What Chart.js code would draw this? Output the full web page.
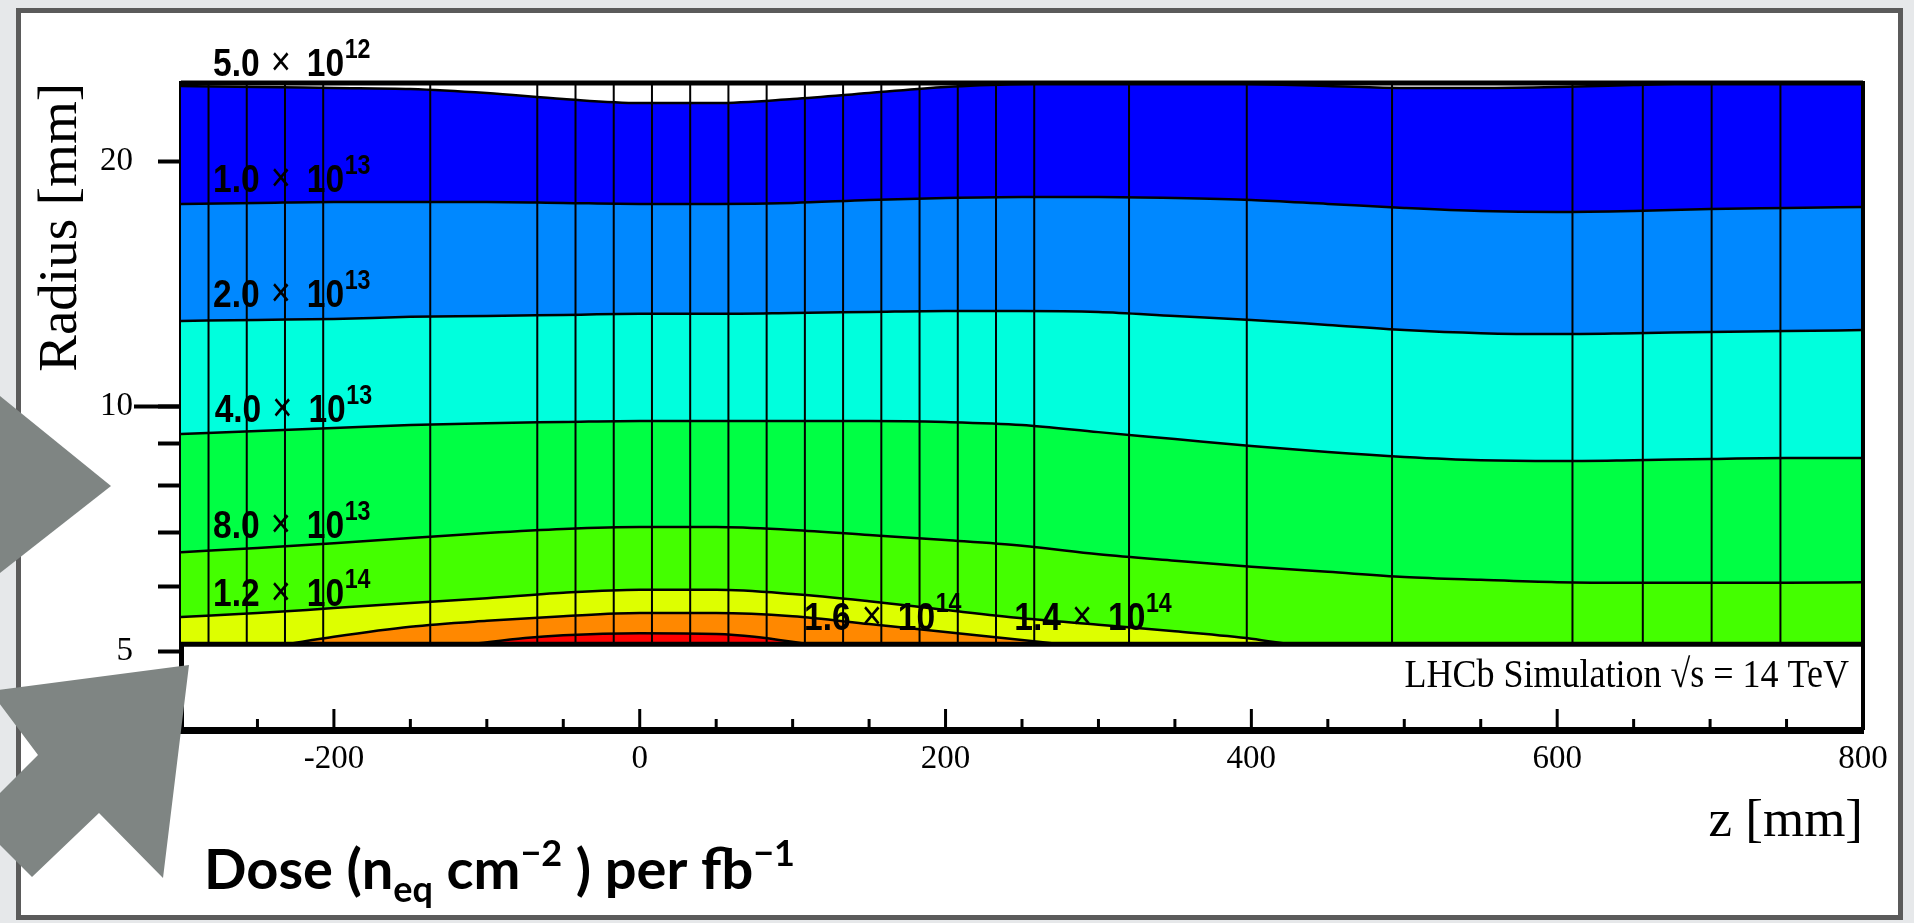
<!DOCTYPE html>
<html>
<head>
<meta charset="utf-8">
<script src="https://cdn.jsdelivr.net/npm/chart.js@4.4.0/dist/chart.umd.min.js"></script>
<style>
  html, body { margin: 0; padding: 0; width: 1914px; height: 923px; overflow: hidden; background: #e6e8ea; }
  #card { position: absolute; left: 16px; top: 8px; width: 1887px; height: 912px; background: #fff;
          border: 5px solid #5b5b5b; box-sizing: border-box; }
  #dose { position: absolute; left: 0; top: 0; }
  #arrows { position: absolute; left: 0; top: 0; }
</style>
</head>
<body>
<div id="card"></div>
<canvas id="dose" width="1914" height="923"></canvas>
<svg id="arrows" width="1914" height="923">
  <polygon points="-5,392 111,486 -5,577" fill="#7f8583"/>
  <polygon points="189,665 -10,691 38,755 -26,819 32,877 99,813 163,878" fill="#7f8583"/>
</svg>
<script>
// z grid (mm) shared by the full-length contour lines
const zGrid = [-300, -250, -200, -150, -100, -50, 0, 50, 100, 150, 200, 250, 300,
               350, 400, 450, 500, 550, 600, 650, 700, 750, 800];

// contour levels (n_eq cm^-2 per fb^-1) and the fill below each of them
const levels = [5.0e12, 1.0e13, 2.0e13, 4.0e13, 8.0e13, 1.2e14, 1.4e14, 1.6e14];
const bandColors = ['#0000ff', '#0088ff', '#00ffdd', '#00ff44', '#44ff00', '#ddff00', '#ff8800', '#ff0000'];

// radius (mm) of each contour line
const r5e12 = [24.79, 24.72, 24.65, 24.58, 24.30, 23.89, 23.62, 23.62, 23.89, 24.30, 24.72, 24.93, 25.0,
               25.0, 24.93, 24.79, 24.65, 24.65, 24.72, 24.86, 25.0, 25.0, 25.0];
const r1e13 = [17.75, 17.8, 17.85, 17.85, 17.85, 17.8, 17.75, 17.75, 17.8, 17.95, 18.05, 18.1, 18.1,
               18.05, 17.95, 17.75, 17.55, 17.4, 17.35, 17.4, 17.5, 17.55, 17.6];
const r2e13 = [12.74, 12.78, 12.81, 12.89, 12.92, 12.96, 13.0, 13.0, 13.03, 13.07, 13.11, 13.11, 13.07,
               12.92, 12.78, 12.6, 12.42, 12.31, 12.28, 12.31, 12.35, 12.38, 12.42];
const r4e13 = [9.25, 9.33, 9.41, 9.49, 9.54, 9.57, 9.6, 9.6, 9.6, 9.6, 9.57, 9.49, 9.3,
               9.12, 8.94, 8.79, 8.67, 8.59, 8.57, 8.59, 8.62, 8.64, 8.64];
const r8e13 = [6.62, 6.7, 6.79, 6.89, 6.99, 7.07, 7.11, 7.11, 7.05, 6.95, 6.85, 6.74, 6.58,
               6.46, 6.35, 6.26, 6.17, 6.12, 6.08, 6.07, 6.07, 6.07, 6.08];
const z12e14 = [-300, -250, -200, -150, -100, -50, 0, 50, 100, 150, 200, 250, 300, 350, 400, 424];
const r12e14 = [5.51, 5.57, 5.65, 5.73, 5.81, 5.9, 5.95, 5.95, 5.88, 5.76, 5.62, 5.49, 5.39, 5.29, 5.18, 5.1];
const z14e14 = [-231, -200, -150, -100, -50, 0, 50, 100, 150, 200, 250, 275];
const r14e14 = [5.1, 5.21, 5.36, 5.45, 5.52, 5.57, 5.57, 5.52, 5.40, 5.28, 5.16, 5.1];
const z16e14 = [-110, -75, -50, 0, 50, 75, 110];
const r16e14 = [5.1, 5.19, 5.23, 5.26, 5.25, 5.21, 5.1];

// z bin edges of the map (the vertical cell lines)
const binEdges = [-282, -257, -232, -207, -137, -67, -42, -17, 8, 33, 58, 83, 108, 133, 158,
                  183, 208, 233, 258, 320, 397, 492, 610, 656, 701, 746];

const rMin = 5.1, rMax = 25;
const xTicks = [-200, 0, 200, 400, 600, 800];
const yTicks = [5, 6, 7, 8, 9, 10, 20];
const yLabels = [5, 10, 20];

// where each contour value is written (data coords, left / baseline)
const labelSpots = [[-279, 25.5], [-279, 18.36], [-279, 13.26], [-278, 9.57],
                    [-279, 6.89], [-279, 5.68], [245, 5.31], [107.5, 5.31]];

const curves = [
  [zGrid, r5e12], [zGrid, r1e13], [zGrid, r2e13], [zGrid, r4e13],
  [zGrid, r8e13], [z12e14, r12e14], [z14e14, r14e14], [z16e14, r16e14]
];

const pts = (zs, rs) => zs.map((z, i) => ({ x: z, y: rs[i] }));

// first dataset is drawn last, so the lowest (hottest) band goes first
const bandSets = curves.map(([zs, rs], i) => ({
  data: pts(zs, rs),
  borderColor: '#000',
  borderWidth: 2.5,
  backgroundColor: bandColors[i],
  fill: { value: rMin },
  cubicInterpolationMode: 'monotone'
})).reverse();

const edgePts = [];
binEdges.forEach(e => edgePts.push({ x: e, y: rMax }, { x: e, y: rMin }, { x: e, y: null }));

const datasets = [
  { data: edgePts, borderColor: '#000', borderWidth: 2, fill: false, spanGaps: false, tension: 0 },
  { data: [{ x: -300, y: rMin }, { x: 800, y: rMin }], borderColor: '#000', borderWidth: 5, fill: false },
  ...bandSets
];

// label text looks narrow and tall in the original, so squeeze it sideways
function drawLevel(ctx, x, y, v) {
  const e = Math.floor(Math.log10(v) + 1e-9);
  const m = (v / Math.pow(10, e)).toFixed(1);
  ctx.save();
  ctx.translate(x, y);
  ctx.scale(0.86, 1);
  ctx.fillStyle = '#000';
  ctx.textBaseline = 'alphabetic';
  ctx.textAlign = 'left';
  ctx.font = 'bold 39px "Liberation Sans"';
  ctx.fillText(m, 0, 0);
  ctx.font = '40px "Liberation Sans"';
  ctx.fillText('×', 67, -1);
  ctx.font = 'bold 39px "Liberation Sans"';
  ctx.fillText('10', 109, 0);
  ctx.font = 'bold 27px "Liberation Sans"';
  ctx.fillText(String(e), 153, -18);
  ctx.restore();
}

const framePlugin = {
  id: 'frame',
  afterDatasetsDraw(chart) {
    const { ctx, chartArea: a, scales: { x, y } } = chart;
    ctx.save();
    ctx.strokeStyle = '#000';
    ctx.lineWidth = 5;
    ctx.beginPath();
    ctx.moveTo(a.left, a.top); ctx.lineTo(a.right, a.top);
    ctx.stroke();
    ctx.lineWidth = 4;
    ctx.beginPath();
    ctx.moveTo(a.right, a.top - 2); ctx.lineTo(a.right, a.bottom);
    ctx.stroke();
    // x ticks point up into the frame
    ctx.lineWidth = 3;
    for (let v = -250; v < 800; v += 50) {
      const px = x.getPixelForValue(v);
      const len = v % 200 === 0 ? 21 : 11;
      ctx.beginPath();
      ctx.moveTo(px, a.bottom); ctx.lineTo(px, a.bottom - len);
      ctx.stroke();
    }
    // the 10 mm tick is drawn longer
    ctx.lineWidth = 4;
    const p10 = y.getPixelForValue(10);
    ctx.beginPath();
    ctx.moveTo(a.left - 47, p10); ctx.lineTo(a.left, p10);
    ctx.stroke();
    ctx.restore();
  },
  afterDraw(chart) {
    const { ctx, chartArea: a, scales: { x, y } } = chart;
    levels.forEach((v, i) => {
      const [lz, lr] = labelSpots[i];
      drawLevel(ctx, x.getPixelForValue(lz), y.getPixelForValue(lr), v);
    });
    ctx.save();
    ctx.fillStyle = '#000';
    ctx.textBaseline = 'alphabetic';
    ctx.translate(a.right - 14, y.getPixelForValue(4.52));
    ctx.scale(0.9, 1);
    ctx.font = '40px "Liberation Serif"';
    ctx.textAlign = 'right';
    ctx.fillText('LHCb Simulation √s = 14 TeV', 0, 0);
    ctx.restore();
  }
};

new Chart(document.getElementById('dose'), {
  type: 'line',
  data: { datasets },
  options: {
    responsive: false,
    animation: false,
    devicePixelRatio: 1,
    layout: { padding: { left: 0, top: 83, right: 51, bottom: 0 } },
    elements: { point: { radius: 0, hoverRadius: 0 } },
    plugins: { legend: { display: false }, tooltip: { enabled: false }, filler: { propagate: false } },
    scales: {
      x: {
        type: 'linear', min: -300, max: 800, position: 'bottom',
        afterBuildTicks: s => { s.ticks = xTicks.map(v => ({ value: v })); },
        afterFit: s => { s.height = 193; },
        ticks: { color: '#000', font: { family: 'Liberation Serif', size: 33 }, padding: 10,
                 maxRotation: 0, autoSkip: false, callback: v => String(v) },
        grid: { drawOnChartArea: false, drawTicks: false },
        border: { display: true, width: 7, color: '#000' },
        title: { display: true, text: 'z [mm]', align: 'end', color: '#000',
                 font: { family: 'Liberation Serif', size: 53 }, padding: { top: 0, bottom: 69 } }
      },
      y: {
        type: 'logarithmic', min: 4, max: rMax, position: 'left',
        afterBuildTicks: s => { s.ticks = yTicks.map(v => ({ value: v })); },
        afterFit: s => { s.width = 181; },
        ticks: { color: '#000', font: { family: 'Liberation Serif', size: 33 }, padding: 25,
                 autoSkip: false, callback: v => yLabels.includes(v) ? String(v) : '' },
        grid: { drawOnChartArea: false, drawTicks: true, tickLength: 23, tickWidth: 4, tickColor: '#000' },
        border: { display: true, width: 5, color: '#000' },
        title: { display: true, text: 'Radius [mm]', align: 'end', color: '#000',
                 font: { family: 'Liberation Serif', size: 55 }, padding: { top: 29, bottom: 0 } }
      }
    }
  },
  plugins: [framePlugin, {
    id: 'doseLabel',
    afterDraw(chart) {
      const ctx = chart.ctx;
      ctx.save();
      ctx.fillStyle = '#000';
      ctx.textAlign = 'left';
      ctx.textBaseline = 'alphabetic';
      let px = 204;
      const base = 889;
      const part = (t, size, dy) => {
        ctx.font = 'bold ' + size + 'px Lato';
        ctx.fillText(t, px, base + dy);
        px += ctx.measureText(t).width;
      };
      part('Dose (n', 56, 0);
      part('eq', 36, 13);
      part(' cm', 56, 0);
      part('−2', 36, -23);
      part(' ) per fb', 56, 0);
      part('−1', 36, -23);
      ctx.restore();
    }
  }]
});
</script>
</body>
</html>
